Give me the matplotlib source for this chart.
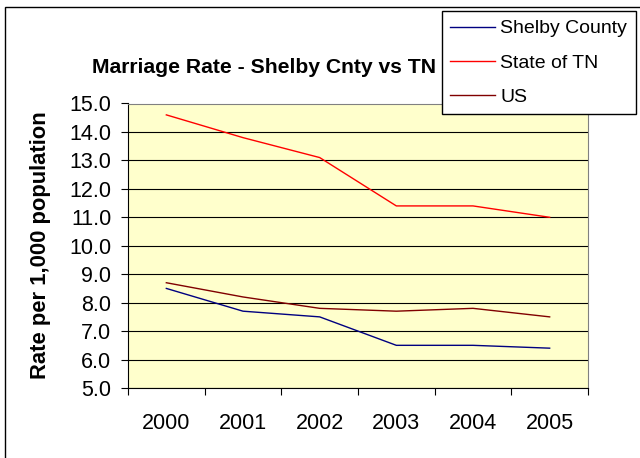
import matplotlib.pyplot as plt
from matplotlib.patches import Rectangle

plt.rcParams["font.family"] = ["Liberation Sans", "DejaVu Sans"]

years = ["2000", "2001", "2002", "2003", "2004", "2005"]
shelby = [8.5, 7.7, 7.5, 6.5, 6.5, 6.4]
tn = [14.6, 13.8, 13.1, 11.4, 11.4, 11.0]
us = [8.7, 8.2, 7.8, 7.7, 7.8, 7.5]

W, H = 640, 458
fig = plt.figure(figsize=(W / 100, H / 100), dpi=100)
fig.patch.set_facecolor("white")

# outer chart border (right/bottom run off the picture)
fig.add_artist(Rectangle((5 / W, -0.2), 1.2, 1 - 7 / H + 0.2, transform=fig.transFigure,
                         facecolor="none", edgecolor="black", lw=1.0, zorder=-1))

ax = fig.add_axes([128 / W, 1 - 388 / H, 460 / W, 284.5 / H])
ax.set_facecolor("#FFFFCC")

x = range(len(years))
ax.plot(x, shelby, color="#000080", lw=1.0, label="Shelby County")
ax.plot(x, tn, color="#FF0000", lw=1.0, label="State of TN")
ax.plot(x, us, color="#800000", lw=1.0, label="US")

ax.set_xlim(-0.5, len(years) - 0.5)
ax.set_ylim(5, 15)
ax.set_yticks(range(5, 16))
ax.set_yticklabels([f"{v:.1f}" for v in range(5, 16)])
ax.yaxis.grid(True, color="black", lw=0.8)
ax.set_axisbelow(True)

ax.set_xticks([i - 0.5 for i in range(len(years) + 1)])
ax.set_xticklabels([])
ax.set_xticks(list(x), minor=True)
ax.set_xticklabels(years, minor=True)
ax.tick_params(axis="x", which="major", direction="out", length=5, width=0.8)
ax.tick_params(axis="x", which="minor", length=0, pad=18, labelsize=15.5)
ax.tick_params(axis="y", direction="out", length=5, width=0.8, pad=7, labelsize=15.5)

for s in ["left", "bottom"]:
    ax.spines[s].set_color("black")
for s in ["top", "right"]:
    ax.spines[s].set_color("#808080")

fig.text(264.5 / W, 1 - 73 / H, "Marriage Rate - Shelby Cnty vs TN", ha="center",
         va="baseline", fontsize=15.2, fontweight="bold")
fig.text(41 / W, 1 - 245 / H, "Rate per 1,000 population", rotation=90, ha="center",
         va="center", fontsize=15.8, fontweight="bold")

leg = ax.legend(loc="upper right", bbox_to_anchor=(636 / W, 1 - 11 / H),
                bbox_transform=fig.transFigure, borderaxespad=0, fancybox=False,
                edgecolor="black", framealpha=1, fontsize=14, handlelength=2.27,
                handletextpad=0.3, labelspacing=0.85, borderpad=0.45)
leg.get_frame().set_linewidth(1.0)

fig.savefig("out.png", dpi=100)
